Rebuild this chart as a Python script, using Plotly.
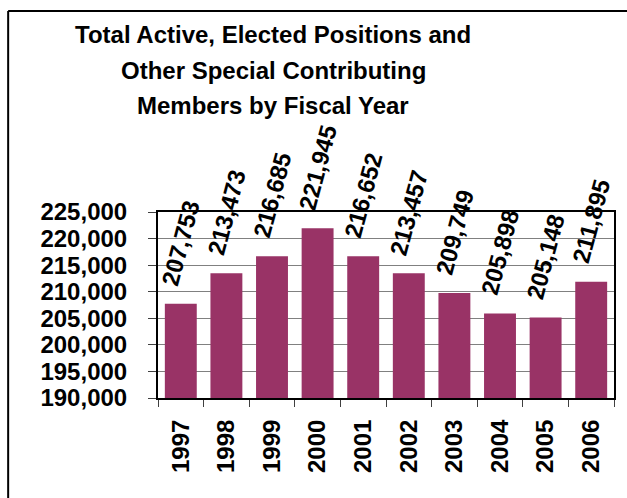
import plotly.graph_objects as go

years = ["1997", "1998", "1999", "2000", "2001", "2002", "2003", "2004", "2005", "2006"]
members = [207753, 213473, 216685, 221945, 216652, 213457, 209749, 205898, 205148, 211895]
title_lines = ["Total Active, Elected Positions and",
               "Other Special Contributing",
               "Members by Fiscal Year"]
y_ticks = [190000, 195000, 200000, 205000, 210000, 215000, 220000, 225000]

FONT = "Arial, Liberation Sans, sans-serif"
W, H = 627, 498
L, R, T, B = 158, 11, 212, 100
PW, PH = W - L - R, H - T - B


def px_x(p):
    return (p - L) / PW


def px_y(p):
    return (H - B - p) / PH


fig = go.Figure()
fig.add_trace(go.Bar(
    x=years, y=members,
    marker=dict(color="#993366", line=dict(width=0)),
    hoverinfo="x+y",
))

annotations = []
for i, v in enumerate(members):
    annotations.append(dict(
        x=i, y=v, xref="x", yref="y",
        text=f"<b>{v:,}</b>", showarrow=False,
        textangle=-75, xanchor="center", yanchor="bottom",
        yshift=13,
        font=dict(family=FONT, size=24, color="black"),
    ))

for line, py in zip(title_lines, [34, 70.5, 105.5]):
    annotations.append(dict(
        x=px_x(274), y=px_y(py), xref="paper", yref="paper",
        text=f"<b>{line}</b>", showarrow=False,
        xanchor="center", yanchor="middle",
        font=dict(family=FONT, size=24, color="black"),
    ))

shapes = [
    dict(type="line", xref="paper", yref="paper",
         x0=px_x(7.5), x1=px_x(660), y0=px_y(11), y1=px_y(11),
         line=dict(color="black", width=2)),
    dict(type="line", xref="paper", yref="paper",
         x0=px_x(7.5), x1=px_x(7.5), y0=px_y(11), y1=px_y(540),
         line=dict(color="black", width=2)),
]

fig.update_layout(
    width=W, height=H,
    margin=dict(l=L, r=R, t=T, b=B, pad=0),
    paper_bgcolor="white", plot_bgcolor="white",
    showlegend=False,
    bargap=0.3,
    annotations=annotations,
    shapes=shapes,
    font=dict(family=FONT, color="black"),
)

fig.update_xaxes(
    type="category",
    range=[-0.5, len(years) - 0.5],
    showline=True, linecolor="black", linewidth=2, mirror=True,
    showgrid=False,
    ticks="outside", tickson="boundaries", ticklen=7, tickcolor="#404040",
    tickangle=-90,
    ticklabelstandoff=10,
    tickfont=dict(family=FONT, size=24, color="black", weight="bold"),
)
fig.update_yaxes(
    range=[190000, 225000],
    tickvals=y_ticks,
    ticktext=[f"{t:,}" for t in y_ticks],
    showline=True, linecolor="black", linewidth=2, mirror=True,
    showgrid=True, gridcolor="#808080", gridwidth=1,
    zeroline=False,
    ticks="outside", ticklen=8, tickcolor="#404040",
    ticklabelstandoff=16,
    tickfont=dict(family=FONT, size=24, color="black", weight="bold"),
)

fig.write_html("out.html", config={"displayModeBar": False},
               post_script="document.body.style.margin='0px';")
